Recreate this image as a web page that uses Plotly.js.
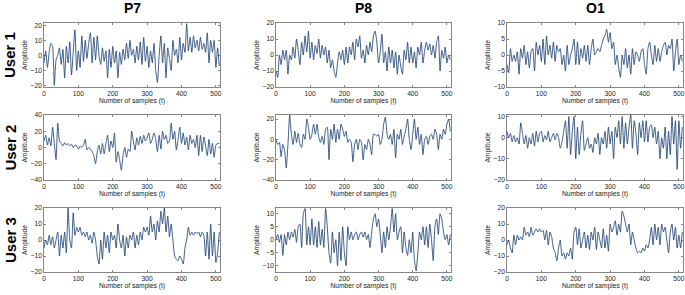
<!DOCTYPE html>
<html><head><meta charset="utf-8">
<script src="https://cdn.plot.ly/plotly-3.0.1.min.js"></script>
<style>html,body{margin:0;padding:0;background:#fff}#chart{width:685px;height:295px}</style>
</head><body><div id="chart"></div>
<script>
const channels = ['P7', 'P8', 'O1'];
const users = ['User 1', 'User 2', 'User 3'];
const sampleStep = 5;   // one value every 5 samples (t = 0 … 510)
const xTicks = [0, 100, 200, 300, 400, 500];

const p7_user1 = [
  -5, 3, -8, 2, 8, 6, -20, -3, 0, 5,
  -6, 4, -15, 6, -5, 9, -13, 2, 17, -10,
  3, -8, 13, -4, 10, -2, 8, 15, -5, 12,
  -3, 13, 0, -6, 5, -4, 3, -15, 4, -8,
  6, -5, 3, -15, 2, -6, 4, -3, 8, -2,
  10, 0, 4, -5, 6, -3, 9, -6, 12, -4,
  6, -8, 3, -5, 8, -10, -18, 0, 13, -5,
  8, -15, 5, -2, -10, 10, 0, 4, -5, 12,
  -3, 8, 2, 21, 3, 12, 2, 13, 5, 10,
  3, 12, 4, 8, 2, 15, -5, 10, 2, 10,
  -8, 5, -7];
const p8_user1 = [
  -10, -14, 0, -6, 3, -3, 3, -12, 0, -3,
  5, -2, 10, 3, -6, 8, 0, 12, 2, 15,
  -2, 8, -3, 6, 1, 10, -2, 6, 0, 5,
  -5, 3, -8, -3, -10, -14, -5, 2, -3, 3,
  -6, 5, -5, 5, 0, 8, -3, 10, 5, 12,
  -2, 3, -5, 6, 0, 8, 2, 12, 15, 8,
  -5, 2, 13, -5, 2, -10, 5, -5, 3, -8,
  2, -12, 0, -7, -12, 3, -3, 8, -5, 5,
  -5, 2, -8, 5, 0, 8, -5, 3, 8, 3,
  7, 0, 6, -2, 8, 12, -10, 3, -2, 5,
  -5, 0, -3];
const o1_user1 = [
  -3, -5.5, 2, -2, 0, -2, 1, -6, 2, -1,
  3, -3, 1, -4, 1, 2, -5, 4, 0, 3,
  -2, 5, -3, 6, 0, 3, -1, 4, -2, 3,
  1, 2, -3, 0, -5, 3, -3, 0, 2, 5,
  -3, 4, -3, 2, -1, 3, -2, 3, -3, 2,
  5, 0, 1, 2, 1, 3, 5, 6, 8, 4,
  7, 2, 4, -3, 0, -4, -7, 0, -3, 2,
  -4, 0, -6, 2, -3, 1, 0, -2, 1, 2,
  -3, -6, 2, 4, 0, -3, 3, -2, 2, -2,
  1, 3, 4, 0, 3, 2, 5, -5, 1, 5,
  -3, 0, -2];
const p7_user2 = [
  8, 15, 3, 12, 2, 25, 5, -15, 30, 8,
  5, 2, 6, 3, 5, 2, 4, 0, 3, 2,
  -2, 2, 0, 3, 10, -3, 0, -2, -5, -10,
  -20, -5, 3, -8, 5, -8, 5, 15, -5, 8,
  0, 18, -18, -5, -15, -28, -10, 0, -12, -2,
  -5, 20, 8, -3, 12, 3, 14, 5, 15, 8,
  12, 18, 5, 10, 18, 10, -5, 15, -2, 20,
  10, 15, 5, 8, 30, 10, 20, -3, 10, 25,
  5, 18, 3, 13, -3, 15, 5, 10, 0, 15,
  -10, 15, -5, 13, 2, -10, 10, -8, 5, -12,
  3, 5, 5];
const p8_user2 = [
  0, -5, -3, -17, -5, -10, -28, -5, 24, 5,
  -5, 8, -3, 6, -5, -8, 5, 0, 20, 12,
  0, 5, 15, 5, 15, 2, -3, 3, -5, 10,
  12, -20, 10, 0, 15, -3, 10, 0, 15, 10,
  3, 8, -3, 0, -3, -22, -5, 0, -10, 0,
  -3, -20, -5, -10, 0, -5, -15, 5, 5, 3,
  5, -5, 0, 15, 22, 5, 0, 5, -5, 10,
  -18, 5, 0, 10, -5, 3, 10, 20, 0, -10,
  5, 20, 0, 12, -5, 5, -15, 0, 3, -5,
  3, 5, 0, 10, 5, -10, 5, 0, 10, 5,
  15, 20, 8];
const o1_user2 = [
  3, 0, 2, -2, 1, -2, 0, -3, 7, 2,
  -3, 1, -5, 0, -3, 2, -4, 3, -2, 2,
  3, -2, 1, -1, 3, -2, 0, 2, -1, 2,
  0, -5, -2, 3, 8, -5, 10, -8, 3, 10,
  -10, 5, -8, 2, 8, -6, -3, 0, -5, -3,
  -7, 0, -3, 2, -8, 0, -3, 3, -5, 5,
  -3, 3, -10, 5, 0, 8, -3, 10, -5, 7,
  -3, 5, 11, -5, 8, 2, -8, 7, 0, 8,
  -2, 8, -2, 5, 6, 0, 5, -3, 3, -10,
  0, -5, 5, -10, 3, -8, 10, -3, 8, -15,
  8, -5, 5];
const p7_user3 = [
  -5, 0, -3, 3, -3, 2, -5, 0, 5, -10,
  3, -5, 5, -8, 20, 0, -5, 17, 3, 8,
  5, 8, 3, 5, 2, 5, 0, 3, -2, 5,
  0, -10, -15, 0, -12, 5, -5, 3, -8, 5,
  0, 3, -5, 10, 0, -5, 3, -10, 2, -5,
  3, 0, 5, -5, 3, -3, 5, 0, 8, 5,
  8, 3, 15, 5, 10, 0, 12, 5, 18, 10,
  20, 5, 15, 2, 10, 0, -10, -12, -13, -10,
  -12, -15, -5, 0, 8, 3, 5, 3, 5, 4,
  5, 2, 5, 3, -10, 5, -12, 10, -10, 5,
  -14, -8, 5];
const p8_user3 = [
  0, 2, -1, 2, -6, 2, -2, 3, 0, 3,
  1, 4, -1, 5, 6, -3, 10, 12, -2, 5,
  -2, 8, -2, 5, -3, 7, -2, 4, -3, 12,
  5, -5, -9, 3, -5, 0, -10, 3, -8, 5,
  -5, -10, 5, 0, 3, 0, 2, 3, 0, 2,
  3, 1, 3, 0, 2, -3, 3, 8, 10, 5,
  8, 2, -5, 3, -3, 5, 0, 5, 12, 3,
  10, 0, 3, 5, -5, 3, -3, -6, 0, -5,
  3, -8, -12, -5, 3, 0, 5, -2, 5, -3,
  6, 0, -8, 5, 8, 2, 10, 8, 3, 0,
  2, -2, 2];
const o1_user3 = [
  -3, 0, -5, -8, 3, -3, 3, 0, 2, 0,
  8, 3, 5, 2, 8, 3, 5, 7, 5, 7,
  5, 6, 0, 6, -3, 5, 2, -5, -8, -13,
  -5, 0, -10, -8, -12, -8, -10, -5, -12, 5,
  8, -3, 7, -5, 0, 5, -5, 3, -6, 5,
  0, 8, -6, 5, 0, -5, 7, -5, 3, -7,
  10, 5, 8, 12, 3, 10, 5, 18, 15, 10,
  5, 10, -3, 5, 0, -5, -8, -7, -8, -5,
  -7, -3, -5, 0, 8, -3, 10, 0, 8, -3,
  10, 5, 8, 0, -8, 5, 10, 0, 8, -5,
  3, -5, 5];

const yTicks = [
  [[-20, -10, 0, 10, 20], [-20, -10, 0, 10, 20], [-10, -5, 0, 5, 10]],
  [[-40, -20, 0, 20, 40], [-40, -20, 0, 20], [-20, -10, 0, 10]],
  [[-20, -10, 0, 10, 20], [-10, -5, 0, 5, 10], [-20, -10, 0, 10, 20]]
];

// ---- layout configuration ----
const grid = [[p7_user1, p8_user1, o1_user1], [p7_user2, p8_user2, o1_user2], [p7_user3, p8_user3, o1_user3]];
const yRanges = [
  [[-21, 21.5], [-20, 20], [-10, 10]],
  [[-40, 40], [-40, 24], [-20, 10.7]],
  [[-20, 20], [-12.4, 12.2], [-20, 20]]
];
const W = 685, H = 295;
const colPx = [[44, 220], [276, 451], [507, 683]];
const rowPx = [[23, 87], [115, 180], [208, 272]];
const FONT = 'Liberation Sans, Arial, sans-serif';

const data = [];
const layout = {
  width: W, height: H, margin: {l: 0, r: 0, t: 0, b: 0},
  paper_bgcolor: '#fff', plot_bgcolor: '#fff', showlegend: false,
  font: {family: FONT, size: 6.7, color: '#222'},
  annotations: []
};

for (let r = 0; r < 3; r++) {
  for (let c = 0; c < 3; c++) {
    const k = r * 3 + c + 1;
    const sfx = k === 1 ? '' : String(k);
    const vals = grid[r][c];
    const xs = vals.map((_, i) => i * sampleStep);
    data.push({
      type: 'scatter', mode: 'lines', x: xs, y: vals,
      xaxis: 'x' + sfx, yaxis: 'y' + sfx,
      line: {color: '#1d4272', width: 0.85, shape: 'spline', smoothing: 0.5},
      hoverinfo: 'skip'
    });
    const common = {
      showline: true, mirror: 'ticks', linecolor: '#333', linewidth: 0.6,
      ticks: 'inside', ticklen: 2, tickwidth: 0.6, tickcolor: '#333',
      showgrid: false, zeroline: false, fixedrange: true,
      tickfont: {family: FONT, size: 6.7, color: '#222'}
    };
    layout['xaxis' + sfx] = Object.assign({}, common, {
      domain: [colPx[c][0] / W, colPx[c][1] / W],
      anchor: 'y' + sfx, range: [0, 512],
      tickmode: 'array', tickvals: xTicks,
      title: {text: 'Number of samples (t)', font: {family: FONT, size: 6.7, color: '#222'}, standoff: 1}
    });
    layout['yaxis' + sfx] = Object.assign({}, common, {
      domain: [1 - rowPx[r][1] / H, 1 - rowPx[r][0] / H],
      anchor: 'x' + sfx, range: yRanges[r][c],
      tickmode: 'array', tickvals: yTicks[r][c],
      title: {text: 'Amplitude', font: {family: FONT, size: 6.7, color: '#222'}, standoff: 2}
    });
  }
}

channels.forEach((ch, c) => {
  layout.annotations.push({
    text: '<b>' + ch + '</b>', xref: 'paper', yref: 'paper',
    x: (colPx[c][0] + colPx[c][1]) / 2 / W, y: 1 - 8 / H,
    xanchor: 'center', yanchor: 'middle', showarrow: false,
    font: {family: FONT, size: 14, color: '#000'}
  });
});
users.forEach((u, r) => {
  layout.annotations.push({
    text: '<b>' + u + '</b>', xref: 'paper', yref: 'paper',
    x: 10 / W, y: 1 - (rowPx[r][0] + rowPx[r][1]) / 2 / H,
    xanchor: 'center', yanchor: 'middle', showarrow: false, textangle: -90,
    font: {family: FONT, size: 15, color: '#000'}
  });
});

Plotly.newPlot('chart', data, layout, {displayModeBar: false, staticPlot: true});
</script>
</body></html>
